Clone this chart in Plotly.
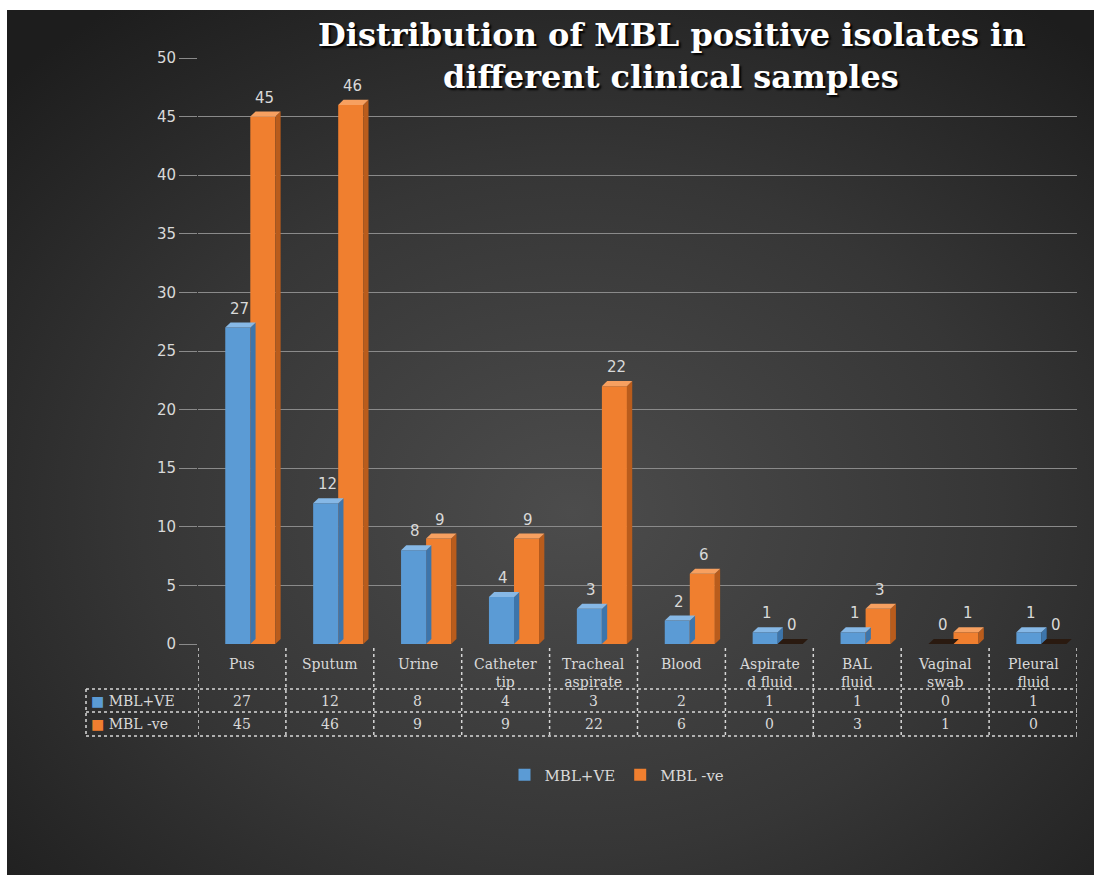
import base64
import plotly.graph_objects as go

# ---------------- data ----------------
categories = ["Pus", "Sputum", "Urine", "Catheter tip", "Tracheal aspirate",
              "Blood", "Aspirated fluid", "BAL fluid", "Vaginal swab", "Pleural fluid"]
header_labels = ["Pus", "Sputum", "Urine", "Catheter<br>tip", "Tracheal<br>aspirate",
                 "Blood", "Aspirate<br>d fluid", "BAL<br>fluid", "Vaginal<br>swab", "Pleural<br>fluid"]
series_names = ["MBL+VE", "MBL -ve"]
mbl_pos = [27, 12, 8, 4, 3, 2, 1, 1, 0, 1]
mbl_neg = [45, 46, 9, 9, 22, 6, 0, 3, 1, 0]
y_ticks = [0, 5, 10, 15, 20, 25, 30, 35, 40, 45, 50]
title_lines = ["Distribution of MBL positive isolates in", "different clinical samples"]

# ---------------- geometry / style ----------------
W, H = 1094, 875
L, R, T, B = 198, 17, 58, 231
PW, PH = W - L - R, H - T - B

def px2x(px):
    return (px - L) / PW

def py2y(py):
    return (H - B - py) / PH

BLUE, BLUE_SIDE, BLUE_TOP = "#5b9bd5", "#3d75ab", "#86b8e6"
ORANGE, ORANGE_SIDE, ORANGE_TOP = "#f07f2f", "#b95c1c", "#f7a060"
TXT = "#d9d9d9"
GRID = "#8a8a8a"
SANS = "DejaVu Sans"
SERIF = "DejaVu Serif"

xs = list(range(len(categories)))
BAR_W = 0.285
OFFS = [-0.19, 0.095]
DX, DY = 0.06, 0.43

fig = go.Figure()
series = [(mbl_pos, BLUE, BLUE_SIDE, BLUE_TOP), (mbl_neg, ORANGE, ORANGE_SIDE, ORANGE_TOP)]
shapes = []
annotations = []
for k, (vals, col, side, top) in enumerate(series):
    fig.add_trace(go.Bar(
        x=xs, y=vals, name=series_names[k], width=BAR_W, offset=OFFS[k],
        marker=dict(color=col, line=dict(width=0)), cliponaxis=False,
    ))
    for i, v in enumerate(vals):
        xl = i + OFFS[k]
        xr = xl + BAR_W
        if v > 0:
            shapes.append(dict(type="path", xref="x", yref="y", layer="above",
                               path=f"M{xr},0 L{xr+DX},{DY} L{xr+DX},{v+DY} L{xr},{v} Z",
                               fillcolor=side, line=dict(width=0)))
            shapes.append(dict(type="path", xref="x", yref="y", layer="above",
                               path=f"M{xl},{v} L{xr},{v} L{xr+DX},{v+DY} L{xl+DX},{v+DY} Z",
                               fillcolor=top, line=dict(width=0)))
        else:
            shapes.append(dict(type="path", xref="x", yref="y", layer="above",
                               path=f"M{xl},0 L{xr},0 L{xr+DX},{DY} L{xl+DX},{DY} Z",
                               fillcolor="#2a1a10", line=dict(width=0)))
        annotations.append(dict(x=(xl + xr) / 2 + 0.02, y=v, xref="x", yref="y",
                                text=str(v), showarrow=False, yanchor="bottom", yshift=8,
                                font=dict(family=SANS, size=15, color=TXT)))

# ---------------- data table ----------------
DOT = dict(color="#d8d8d8", width=1.5, dash="dot")
row_y = [py2y(701), py2y(724)]
for i, lab in enumerate(header_labels):
    annotations.append(dict(x=i, y=py2y(654), xref="x", yref="paper", text=lab,
                            showarrow=False, yanchor="top",
                            font=dict(family=SERIF, size=14, color=TXT)))
    for r, vals in enumerate([mbl_pos, mbl_neg]):
        annotations.append(dict(x=i, y=row_y[r], xref="x", yref="paper", text=str(vals[i]),
                                showarrow=False, yanchor="middle",
                                font=dict(family=SERIF, size=14, color=TXT)))
for r, (name, col) in enumerate(zip(series_names, [BLUE, ORANGE])):
    annotations.append(dict(x=px2x(89), y=row_y[r], xref="paper", yref="paper",
                            text=f'<span style="color:{col}">■</span> {name}',
                            showarrow=False, xanchor="left", yanchor="middle",
                            font=dict(family=SERIF, size=14, color=TXT)))
for i in range(len(categories) + 1):
    shapes.append(dict(type="line", xref="x", yref="paper", x0=i - 0.5, x1=i - 0.5,
                       y0=py2y(648), y1=py2y(736), line=DOT))
shapes.append(dict(type="line", xref="paper", yref="paper", x0=px2x(86), x1=px2x(86),
                   y0=py2y(689), y1=py2y(736), line=DOT))
for yy in [689, 712, 736]:
    shapes.append(dict(type="line", xref="paper", yref="paper", x0=px2x(86), x1=px2x(W - R),
                       y0=py2y(yy), y1=py2y(yy), line=DOT))

# ---------------- title ----------------
for line, yc in zip(title_lines, [35, 77]):
    annotations.append(dict(x=px2x(671), y=py2y(yc), xref="paper", yref="paper", text=line,
                            showarrow=False, xanchor="center", yanchor="middle",
                            font=dict(family="DejaVu Serif", size=32, color="#ffffff",
                                      weight="bold", shadow="2px 2px 2px #000000")))

# ---------------- background gradient ----------------
bx0, by0 = 7, 10
bw, bh = W - bx0, H - by0
svg = (f'<svg xmlns="http://www.w3.org/2000/svg" width="{bw}" height="{bh}">'
       '<defs><radialGradient id="g" cx="52%" cy="58%" r="72%">'
       '<stop offset="0" stop-color="#4c4c4c"/><stop offset="0.55" stop-color="#363636"/>'
       '<stop offset="1" stop-color="#1d1d1d"/></radialGradient></defs>'
       '<rect width="100%" height="100%" fill="url(#g)"/></svg>')
src = "data:image/svg+xml;base64," + base64.b64encode(svg.encode()).decode()

fig.update_layout(
    width=W, height=H,
    margin=dict(l=L, r=R, t=T, b=B),
    paper_bgcolor="#ffffff",
    plot_bgcolor="rgba(0,0,0,0)",
    barmode="overlay",
    showlegend=True,
    legend=dict(orientation="h", x=px2x(617), xanchor="center", y=py2y(775), yanchor="middle",
                bgcolor="rgba(0,0,0,0)", font=dict(family=SERIF, size=15, color=TXT)),
    xaxis=dict(range=[-0.5, len(categories) - 0.5], showticklabels=False, showgrid=False,
               zeroline=False, showline=False, fixedrange=True),
    yaxis=dict(range=[0, 50], tickvals=y_ticks, showgrid=True, gridcolor=GRID, gridwidth=1,
               zeroline=False, showline=False, ticks="outside", ticklen=18, tickcolor=GRID,
               tickfont=dict(family=SANS, size=15, color=TXT)),
    shapes=shapes,
    annotations=annotations,
    images=[dict(source=src, xref="paper", yref="paper", x=px2x(bx0), y=py2y(by0),
                 sizex=bw / PW, sizey=bh / PH, xanchor="left", yanchor="top",
                 sizing="stretch", layer="below")],
)

fig.write_html("out.html")
